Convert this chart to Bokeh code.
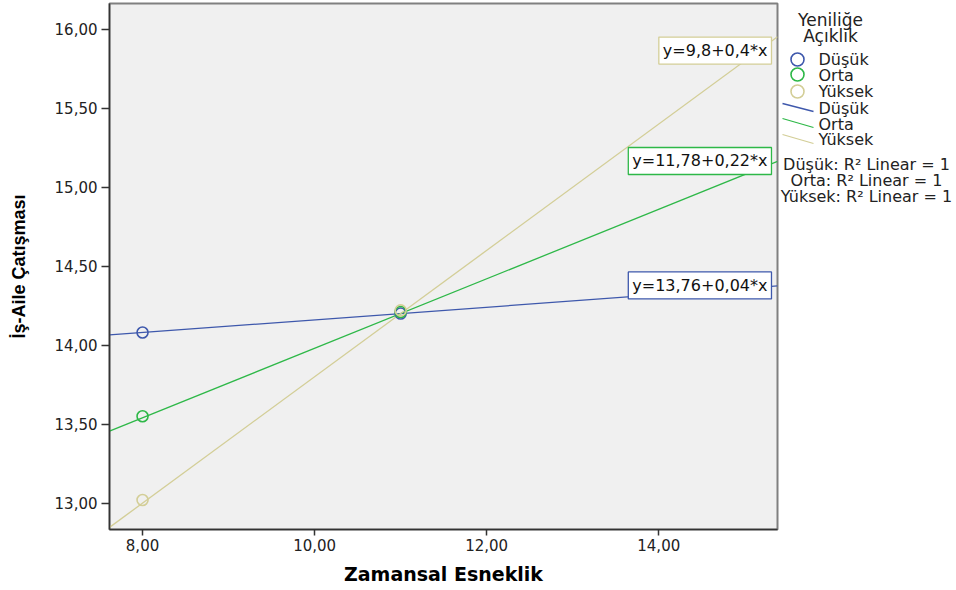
from bokeh.plotting import figure
from bokeh.models import Range1d, FixedTicker, CustomJSTickFormatter, Label
from bokeh.layouts import row
from bokeh.embed import file_html
from bokeh.resources import INLINE

# ---------------- data ----------------
groups = ["Düşük", "Orta", "Yüksek"]
x_vals = [8, 11]
y_dusuk = [14.08, 14.20]
y_orta = [13.55, 14.21]
y_yuksek = [13.02, 14.22]
intercepts = [13.76, 11.78, 9.8]
slopes = [0.04, 0.22, 0.4]
r2_values = [1, 1, 1]
x_ticks = [8, 10, 12, 14]
y_ticks = [13.0, 13.5, 14.0, 14.5, 15.0, 15.5, 16.0]
x_title = "Zamansal Esneklik"
y_title = "İş-Aile Çatışması"
legend_title = ["Yeniliğe", "Açıklık"]

# ---------------- style ----------------
colors = ["#3E58AC", "#2EB848", "#D3CE97"]
FONT = "DejaVu Sans"
x_start, x_end = 7.616, 15.38
y_start, y_end = 12.833, 16.163
label_x = 15.31
label_y = [14.378, 15.166, 15.865]

W_MAIN, H = 779, 590
p = figure(width=W_MAIN, height=H, output_backend="svg", toolbar_location=None,
           x_range=Range1d(x_start, x_end), y_range=Range1d(y_start, y_end),
           min_border_left=109, min_border_right=2, min_border_top=3, min_border_bottom=61)
p.background_fill_color = "#F0F0F0"
p.border_fill_color = "white"
p.outline_line_color = "#808080"
p.outline_line_width = 2
p.xgrid.visible = False
p.ygrid.visible = False

fmt = CustomJSTickFormatter(code="return tick.toFixed(2).replace('.', ',');")
for ax, ticks in ((p.xaxis[0], x_ticks), (p.yaxis[0], y_ticks)):
    ax.ticker = FixedTicker(ticks=ticks)
    ax.formatter = fmt
    ax.minor_tick_line_color = None
    ax.major_tick_in = 0
    ax.axis_line_color = "#333333"
    ax.axis_line_width = 1.5
    ax.major_tick_line_color = "#333333"
    ax.major_tick_line_width = 1.5
    ax.major_label_text_font = FONT
    ax.major_label_text_font_size = "15px"
    ax.major_label_text_color = "#222222"
    ax.axis_label_text_font_style = "bold"
    ax.axis_label_text_color = "black"

p.xaxis.major_tick_out = 6
p.xaxis.major_label_standoff = 3
p.xaxis.axis_label = x_title
p.xaxis.axis_label_text_font = FONT
p.xaxis.axis_label_text_font_size = "19px"
p.xaxis.axis_label_standoff = 9

p.yaxis.major_tick_out = 8
p.yaxis.major_label_standoff = 4
p.yaxis.axis_label = y_title
p.yaxis.axis_label_text_font = "Liberation Sans"
p.yaxis.axis_label_text_font_size = "18px"
p.yaxis.axis_label_standoff = 23

series_y = [y_dusuk, y_orta, y_yuksek]
for i, g in enumerate(groups):
    xs = [x_start, x_end]
    ys = [intercepts[i] + slopes[i] * x for x in xs]
    p.line(xs, ys, line_color=colors[i], line_width=1.3)
for i, g in enumerate(groups):
    p.scatter(x_vals, series_y[i], marker="circle", size=11, fill_color=None,
              line_color=colors[i], line_width=1.6)

def num(v):
    return str(v).replace(".", ",")

for i, g in enumerate(groups):
    p.add_layout(Label(x=label_x, y=label_y[i], text=f"y={num(intercepts[i])}+{num(slopes[i])}*x",
                       text_align="right", text_baseline="middle", text_font=FONT,
                       text_font_size="16px", text_color="#111111",
                       background_fill_color="white", border_line_color=colors[i],
                       border_line_width=1.3, padding=4))

# ---------------- legend panel (coordinates = page pixels) ----------------
LW = 956 - W_MAIN
leg = figure(width=LW, height=H, output_backend="svg", toolbar_location=None,
             x_range=Range1d(W_MAIN, 956), y_range=Range1d(529, 3),
             x_axis_location=None, y_axis_location=None,
             min_border=0, min_border_left=0, min_border_right=0,
             min_border_top=3, min_border_bottom=61)
leg.outline_line_color = None
leg.xgrid.visible = False
leg.ygrid.visible = False
leg.background_fill_color = "white"
leg.border_fill_color = "white"

leg.text(x=[830, 830], y=[19, 35], text=legend_title, text_align="center",
         text_baseline="middle", text_font={"value": FONT}, text_font_size="17px",
         text_color="#222222")
leg.scatter(x=[797, 797, 797], y=[59, 74, 91], marker="circle", size=13, fill_color=None,
            line_color=colors, line_width=1.6)
leg.text(x=[818, 818, 818], y=[59, 75, 91], text=groups, text_align="left",
         text_baseline="middle", text_font={"value": FONT}, text_font_size="16px",
         text_color="#222222")
leg.segment(x0=[782, 782, 782], y0=[103, 118, 134], x1=[813, 813, 813], y1=[111, 127, 143],
            line_color=colors, line_width=1.3)
leg.text(x=[818, 818, 818], y=[108, 124, 139], text=groups, text_align="left",
         text_baseline="middle", text_font={"value": FONT}, text_font_size="16px",
         text_color="#222222")
r2_text = [f"{g}: R² Linear = {r}" for g, r in zip(groups, r2_values)]
leg.text(x=[866, 866, 866], y=[164, 180, 196], text=r2_text, text_align="center",
         text_baseline="middle", text_font={"value": FONT}, text_font_size="16px",
         text_color="#222222")

layout = row(p, leg, spacing=0)
open("out.html", "w").write(file_html(layout, INLINE))
